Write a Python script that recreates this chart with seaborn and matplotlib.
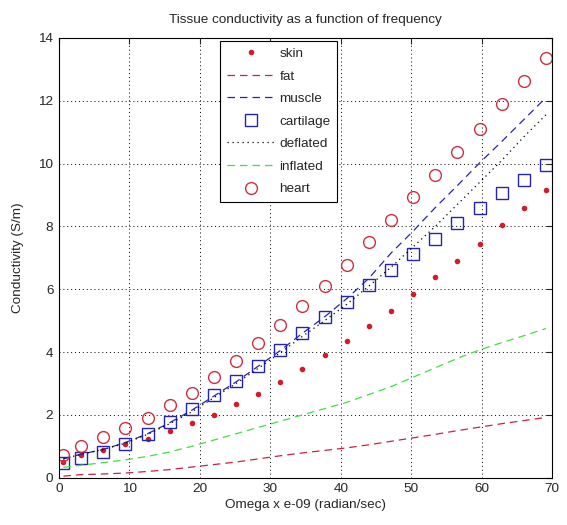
import numpy as np
import pandas as pd
import seaborn as sns
import matplotlib
matplotlib.use("Agg")
import matplotlib.pyplot as plt

# frequency points (GHz), plotted as omega = 2*pi*f
freq_ghz = [0.1, 0.5, 1.0, 1.5, 2.0, 2.5, 3.0, 3.5, 4.0, 4.5, 5.0, 5.5,
            6.0, 6.5, 7.0, 7.5, 8.0, 8.5, 9.0, 9.5, 10.0, 10.5, 11.0]

skin = [0.49, 0.73, 0.87, 1.08, 1.23, 1.50, 1.74, 2.00, 2.36, 2.67, 3.06, 3.46,
        3.92, 4.36, 4.82, 5.32, 5.85, 6.38, 6.91, 7.44, 8.03, 8.59, 9.17]
fat = [0.05, 0.10, 0.12, 0.15, 0.20, 0.26, 0.34, 0.42, 0.50, 0.60, 0.70, 0.79,
       0.87, 0.95, 1.05, 1.16, 1.27, 1.38, 1.50, 1.61, 1.72, 1.82, 1.92]
muscle = [0.60, 0.75, 0.90, 1.12, 1.40, 1.75, 2.15, 2.60, 3.05, 3.55, 4.05, 4.60,
          5.12, 5.70, 6.35, 7.15, 7.85, 8.60, 9.30, 10.02, 10.70, 11.40, 12.10]
cartilage = [0.47, 0.63, 0.81, 1.07, 1.40, 1.77, 2.20, 2.62, 3.09, 3.57, 4.06, 4.61,
             5.12, 5.60, 6.14, 6.62, 7.12, 7.61, 8.11, 8.59, 9.06, 9.49, 9.95]
deflated = [0.60, 0.75, 0.90, 1.10, 1.38, 1.72, 2.10, 2.55, 3.00, 3.48, 3.98, 4.50,
            5.00, 5.52, 6.10, 6.70, 7.35, 8.00, 8.70, 9.40, 10.10, 10.85, 11.55]
inflated = [0.33, 0.40, 0.48, 0.57, 0.68, 0.82, 1.00, 1.20, 1.40, 1.60, 1.80, 2.00,
            2.20, 2.40, 2.65, 2.90, 3.20, 3.50, 3.80, 4.07, 4.30, 4.52, 4.75]
heart = [0.73, 1.00, 1.29, 1.59, 1.90, 2.30, 2.70, 3.21, 3.70, 4.29, 4.85, 5.48,
         6.11, 6.78, 7.49, 8.19, 8.93, 9.63, 10.36, 11.10, 11.88, 12.62, 13.37]

omega = 2 * np.pi * np.array(freq_ghz)
df = pd.DataFrame({"omega": omega, "skin": skin, "fat": fat, "muscle": muscle,
                   "cartilage": cartilage, "deflated": deflated,
                   "inflated": inflated, "heart": heart})

sns.set_style("white")
plt.rcParams["font.family"] = ["Liberation Sans", "DejaVu Sans"]
fs = 9.7

fig, ax = plt.subplots(figsize=(5.67, 5.25), dpi=100)
fig.subplots_adjust(left=0.104, right=0.974, top=0.928, bottom=0.09)

red = "#d41a2e"
blue = "#2424b4"
green = "#44dd44"

# (column, colour, linestyle, marker, markersize)
styles = [
    ("skin", red, "", "o", 4.0),
    ("fat", "#cc2040", "--", None, 0),
    ("muscle", blue, "--", None, 0),
    ("cartilage", blue, "", "s", 9),
    ("deflated", "black", ":", None, 0),
    ("inflated", green, "--", None, 0),
    ("heart", "#cc3040", "", "o", 8.5),
]

for name, col, ls, mk, ms in styles:
    kw = dict(x="omega", y=name, data=df, ax=ax, color=col, label=name,
              linestyle=ls, linewidth=0.9, sort=False)
    if mk is not None:
        kw.update(marker=mk, markersize=ms)
        if ms > 5:
            kw.update(markerfacecolor="none", markeredgecolor=col, markeredgewidth=1.0)
        else:
            kw.update(markeredgewidth=0)
    sns.lineplot(**kw)

for line in ax.get_lines():
    if line.get_linestyle() == "--":
        line.set_dashes((6, 4))
    elif line.get_linestyle() == ":":
        line.set_dashes((1, 3))

ax.set_xlim(0, 70)
ax.set_ylim(0, 14)
ax.set_xticks(range(0, 71, 10))
ax.set_yticks(range(0, 15, 2))
ax.grid(True, color="black", linestyle=(0, (1, 3)), linewidth=0.7)
ax.tick_params(direction="in", top=True, right=True, length=4, width=0.8,
               labelsize=fs, pad=4)
for sp in ax.spines.values():
    sp.set_color("black")
    sp.set_linewidth(0.8)

ax.set_title("Tissue conductivity as a function of frequency", fontsize=fs, pad=11)
ax.set_xlabel("Omega x e-09 (radian/sec)", fontsize=fs, labelpad=3)
ax.set_ylabel("Conductivity (S/m)", fontsize=fs, labelpad=10)

leg = ax.legend(loc="upper left", bbox_to_anchor=(0.327, 0.993), borderaxespad=0,
                fancybox=False, framealpha=1, edgecolor="black", fontsize=fs,
                handlelength=3.6, handletextpad=0.3, labelspacing=0.75,
                borderpad=0.5, numpoints=1)
leg.get_frame().set_linewidth(0.8)

fig.savefig("out.png", dpi=100)
